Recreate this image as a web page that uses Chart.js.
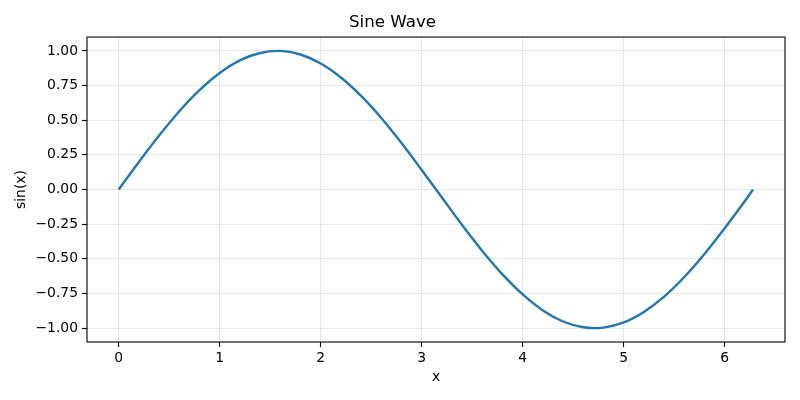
<!DOCTYPE html>
<html>
<head>
<meta charset="utf-8">
<script src="https://cdn.jsdelivr.net/npm/chart.js@4"></script>
<style>
  body { margin: 0; background: #fff; }
</style>
</head>
<body>
<canvas id="chart" width="800" height="400"></canvas>
<script>
// values
const xValues = [0, 0.2, 0.4, 0.6, 0.8, 1.0, 1.2, 1.4, 1.6, 1.8, 2.0, 2.2, 2.4, 2.6, 2.8, 3.0,
                 3.2, 3.4, 3.6, 3.8, 4.0, 4.2, 4.4, 4.6, 4.8, 5.0, 5.2, 5.4, 5.6, 5.8, 6.0, 6.2, 6.28];
const yValues = [0, 0.199, 0.389, 0.565, 0.717, 0.841, 0.932, 0.985, 1.000, 0.974, 0.909, 0.808, 0.675, 0.516, 0.335, 0.141,
                 -0.058, -0.256, -0.443, -0.612, -0.757, -0.872, -0.952, -0.994, -0.996, -0.959, -0.883, -0.773, -0.631, -0.465, -0.279, -0.083, 0.000];
const xTicks = [0, 1, 2, 3, 4, 5, 6];
const yTicks = [-1.00, -0.75, -0.50, -0.25, 0.00, 0.25, 0.50, 0.75, 1.00];

const font = { family: 'DejaVu Sans', size: 13.9 };
const gridCfg = {
    color: 'rgba(176,176,176,0.3)',
    lineWidth: 1,
    tickColor: '#000',
    tickWidth: 1.1,
    tickLength: 5,
};

const fmt = v => (v < 0 ? '\u2212' : '') + Math.abs(v).toFixed(2);

// matplotlib-style box around the axes
const frame = {
    id: 'frame',
    afterDraw(chart) {
        const { ctx, chartArea: a } = chart;
        ctx.save();
        ctx.strokeStyle = '#000';
        ctx.lineWidth = 1.1;
        ctx.strokeRect(a.left, a.top, a.right - a.left, a.bottom - a.top);
        ctx.restore();
    }
};

new Chart(document.getElementById('chart'), {
    type: 'line',
    data: {
        datasets: [{
            data: xValues.map((x, i) => ({ x: x, y: yValues[i] })),
            borderColor: '#1f77b4',
            borderWidth: 2.4,
            pointRadius: 0,
            tension: 0.35,
            fill: false,
        }]
    },
    options: {
        responsive: false,
        animation: false,
        layout: { padding: { right: 15, top: 0, bottom: 0, left: 0 } },
        plugins: {
            legend: { display: false },
            tooltip: { enabled: false },
            title: {
                display: true,
                text: 'Sine Wave',
                color: '#000',
                font: { family: 'DejaVu Sans', size: 16.7, weight: 'normal' },
                padding: { top: 13, bottom: 4 },
            },
        },
        scales: {
            x: {
                type: 'linear',
                min: -0.314,
                max: 6.597,
                afterBuildTicks: s => { s.ticks = xTicks.map(v => ({ value: v })); },
                afterFit: s => { s.height = 58; },
                grid: gridCfg,
                border: { display: false },
                ticks: { color: '#000', font: font, padding: 3, maxRotation: 0,
                         callback: v => String(v) },
                title: { display: true, text: 'x', color: '#000', font: font,
                         padding: { top: 0, bottom: 14.5 } },
            },
            y: {
                min: -1.1,
                max: 1.1,
                afterBuildTicks: s => { s.ticks = yTicks.map(v => ({ value: v })); },
                afterFit: s => { s.width = 87; },
                grid: gridCfg,
                border: { display: false },
                ticks: { color: '#000', font: font, padding: 4, callback: v => fmt(v) },
                title: { display: true, text: 'sin(x)', color: '#000', font: font,
                         padding: { top: 13.5, bottom: 0 } },
            }
        }
    },
    plugins: [frame]
});
</script>
</body>
</html>
